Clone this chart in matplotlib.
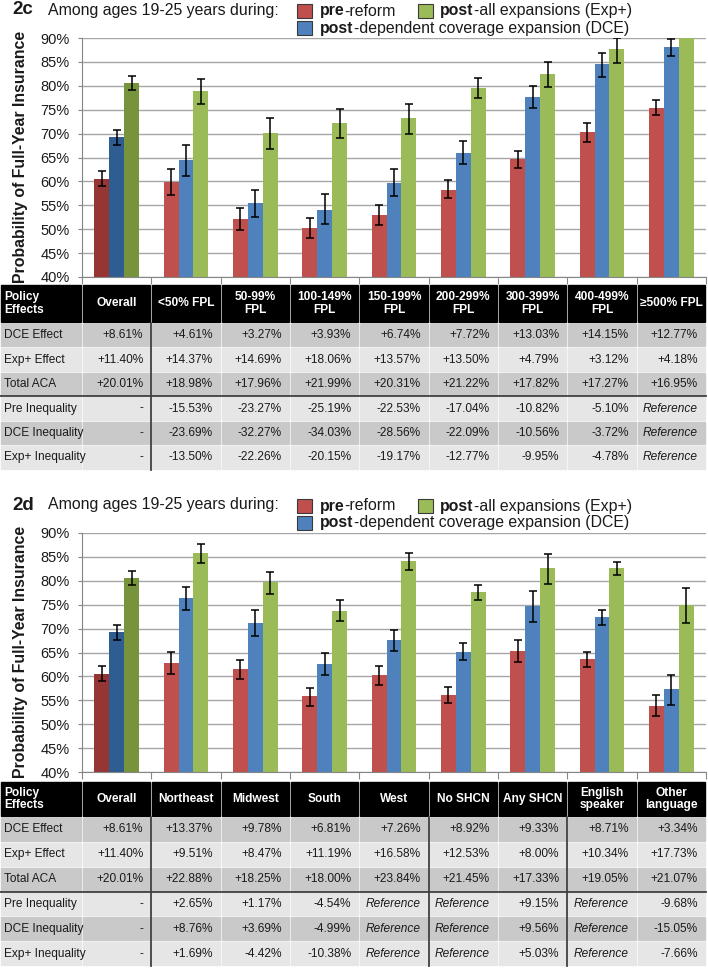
import numpy as np
import matplotlib.pyplot as plt
from matplotlib.patches import Rectangle

W, H = 708, 968

# --- 2c: by family poverty level (FPL) ---
fpl_groups = ['Overall', '<50% FPL', '50-99%\nFPL', '100-149%\nFPL', '150-199%\nFPL',
              '200-299%\nFPL', '300-399%\nFPL', '400-499%\nFPL', '≥500% FPL']
fpl_pre = [60.6, 59.9, 52.1, 50.2, 52.9, 58.3, 64.6, 70.3, 75.4]
fpl_pre_lo = [59.0, 57.2, 49.9, 48.1, 50.8, 56.5, 62.9, 68.3, 73.9]
fpl_pre_hi = [62.2, 62.6, 54.4, 52.3, 55.0, 60.2, 66.4, 72.3, 77.0]
fpl_dce = [69.2, 64.5, 55.4, 54.1, 59.6, 66.0, 77.6, 84.5, 88.2]
fpl_dce_lo = [67.6, 61.2, 52.5, 51.1, 56.9, 63.6, 75.3, 81.9, 86.2]
fpl_dce_hi = [70.8, 67.6, 58.2, 57.3, 62.5, 68.5, 79.9, 86.8, 89.8]
fpl_exp = [80.6, 78.9, 70.1, 72.2, 73.2, 79.6, 82.4, 87.6, 92.35]
fpl_exp_lo = [79.2, 76.1, 66.8, 69.1, 70.0, 77.4, 79.7, 84.7, 90.4]
fpl_exp_hi = [82.0, 81.5, 73.3, 75.1, 76.2, 81.7, 84.9, 89.9, 94.3]

fpl_dce_effect = ['+8.61%', '+4.61%', '+3.27%', '+3.93%', '+6.74%', '+7.72%', '+13.03%', '+14.15%', '+12.77%']
fpl_exp_effect = ['+11.40%', '+14.37%', '+14.69%', '+18.06%', '+13.57%', '+13.50%', '+4.79%', '+3.12%', '+4.18%']
fpl_total = ['+20.01%', '+18.98%', '+17.96%', '+21.99%', '+20.31%', '+21.22%', '+17.82%', '+17.27%', '+16.95%']
fpl_pre_ineq = ['-', '-15.53%', '-23.27%', '-25.19%', '-22.53%', '-17.04%', '-10.82%', '-5.10%', 'Reference']
fpl_dce_ineq = ['-', '-23.69%', '-32.27%', '-34.03%', '-28.56%', '-22.09%', '-10.56%', '-3.72%', 'Reference']
fpl_exp_ineq = ['-', '-13.50%', '-22.26%', '-20.15%', '-19.17%', '-12.77%', '-9.95%', '-4.78%', 'Reference']

# --- 2d: by region, health care need, language ---
grp_groups = ['Overall', 'Northeast', 'Midwest', 'South', 'West', 'No SHCN', 'Any SHCN',
              'English\nspeaker', 'Other\nlanguage']
grp_pre = [60.6, 62.9, 61.5, 55.8, 60.3, 56.1, 65.35, 63.7, 53.9]
grp_pre_lo = [59.0, 60.6, 59.4, 53.8, 58.3, 54.5, 63.0, 62.0, 51.7]
grp_pre_hi = [62.2, 65.1, 63.4, 57.6, 62.1, 57.8, 67.7, 65.15, 56.2]
grp_dce = [69.2, 76.3, 71.2, 62.5, 67.6, 65.05, 74.7, 72.4, 57.3]
grp_dce_lo = [67.6, 73.8, 68.5, 60.2, 65.4, 63.4, 71.4, 70.7, 54.1]
grp_dce_hi = [70.8, 78.6, 73.8, 64.8, 69.8, 66.9, 77.8, 73.9, 60.35]
grp_exp = [80.6, 85.8, 79.7, 73.6, 84.2, 77.7, 82.6, 82.7, 74.9]
grp_exp_lo = [79.2, 83.8, 77.3, 71.6, 82.3, 76.0, 79.4, 81.3, 71.2]
grp_exp_hi = [82.0, 87.7, 81.9, 75.9, 85.9, 79.2, 85.6, 83.9, 78.5]

grp_dce_effect = ['+8.61%', '+13.37%', '+9.78%', '+6.81%', '+7.26%', '+8.92%', '+9.33%', '+8.71%', '+3.34%']
grp_exp_effect = ['+11.40%', '+9.51%', '+8.47%', '+11.19%', '+16.58%', '+12.53%', '+8.00%', '+10.34%', '+17.73%']
grp_total = ['+20.01%', '+22.88%', '+18.25%', '+18.00%', '+23.84%', '+21.45%', '+17.33%', '+19.05%', '+21.07%']
grp_pre_ineq = ['-', '+2.65%', '+1.17%', '-4.54%', 'Reference', 'Reference', '+9.15%', 'Reference', '-9.68%']
grp_dce_ineq = ['-', '+8.76%', '+3.69%', '-4.99%', 'Reference', 'Reference', '+9.56%', 'Reference', '-15.05%']
grp_exp_ineq = ['-', '+1.69%', '-4.42%', '-10.38%', 'Reference', 'Reference', '+5.03%', 'Reference', '-7.66%']

row_labels = ['DCE Effect', 'Exp+ Effect', 'Total ACA', 'Pre Inequality', 'DCE Inequality', 'Exp+ Inequality']

colors = ['#c0504d', '#4f81bd', '#9bbb59']
dark_colors = ['#963634', '#2f5d91', '#77933c']
text_col = '#1a1a1a'

plt.rcParams['font.family'] = ['Liberation Sans', 'DejaVu Sans']

fig = plt.figure(figsize=(W / 100, H / 100), dpi=100)
ov = fig.add_axes([0, 0, 1, 1])
ov.set_xlim(0, W)
ov.set_ylim(H, 0)
ov.axis('off')

col_w = 624 / 9
edges = [0] + [82 + col_w * i for i in range(10)]


def bold_then_plain(x, y, bold, plain):
    t = ov.text(x, y, bold, fontsize=11.4, fontweight='bold', va='center', ha='left', color=text_col)
    ov.annotate(plain, xy=(1, 0), xycoords=t, va='bottom', ha='left', fontsize=11.4, color=text_col)


def draw_panel(tag, y0, head_top, head_bot, row_h, groups, series, rows, seps):
    # heading + legend
    ov.text(12, y0 + 10, tag, fontsize=13.5, fontweight='bold', va='center', color=text_col)
    ov.text(48, y0 + 10, 'Among ages 19-25 years during:', fontsize=11.4, va='center', color=text_col)
    for (lx, ly), c in zip([(297, y0 + 4), (297, y0 + 21), (418, y0 + 4)], colors):
        ov.add_patch(Rectangle((lx, ly), 15, 14, facecolor=c, edgecolor='#3a3a3a', lw=0.8))
    bold_then_plain(320, y0 + 11, 'pre', '-reform')
    bold_then_plain(440, y0 + 11, 'post', '-all expansions (Exp+)')
    bold_then_plain(320, y0 + 28, 'post', '-dependent coverage expansion (DCE)')

    # bar chart
    ax = fig.add_axes([82 / W, 1 - (y0 + 277) / H, 624 / W, 239 / H])
    x = np.arange(len(groups))
    bw = 0.215
    for k, (vals, lo, hi) in enumerate(series):
        vals, lo, hi = np.array(vals), np.array(lo), np.array(hi)
        cols = [dark_colors[k]] + [colors[k]] * (len(groups) - 1)
        ax.bar(x + (k - 1) * bw, vals, bw, color=cols, zorder=2)
        ax.errorbar(x + (k - 1) * bw, vals, yerr=[vals - lo, hi - vals], fmt='none',
                    ecolor='black', elinewidth=1.1, capsize=3, capthick=1.1, zorder=3)
    ax.set_xlim(-0.5, len(groups) - 0.5)
    ax.set_ylim(40, 90)
    ax.set_yticks(range(40, 91, 5))
    ax.set_yticklabels([f'{v}%' for v in range(40, 91, 5)], fontsize=10.5, color=text_col)
    ax.set_xticks(np.arange(-0.5, len(groups), 1))
    ax.set_xticklabels([])
    ax.tick_params(axis='x', length=5, color='#868686')
    ax.tick_params(axis='y', length=3, pad=6, color='#868686')
    ax.yaxis.grid(True, color='#a6a6a6', lw=1)
    ax.set_axisbelow(True)
    for s in ['top', 'right']:
        ax.spines[s].set_visible(False)
    for s in ['left', 'bottom']:
        ax.spines[s].set_color('#868686')
    ov.text(21, y0 + 157, 'Probability of Full-Year Insurance', rotation=90, ha='center', va='center',
            fontsize=11.4, fontweight='bold', color=text_col)

    # table header
    for j in range(10):
        x0, x1 = edges[j], edges[j + 1]
        ov.add_patch(Rectangle((x0 + 1, head_top), x1 - x0 - 2, head_bot - head_top, color='black'))
        if j == 0:
            ov.text(4, (head_top + head_bot) / 2, 'Policy\nEffects', color='white', fontsize=8.6,
                    fontweight='bold', ha='left', va='center', linespacing=1.1)
        else:
            ov.text((x0 + x1) / 2, (head_top + head_bot) / 2, groups[j - 1], color='white', fontsize=8.6,
                    fontweight='bold', ha='center', va='center', linespacing=1.1)

    # table body
    for r, cells in enumerate(rows):
        y = head_bot + 1 + r * row_h
        fc = '#c9c9c9' if r % 2 == 0 else '#e6e6e6'
        for j in range(10):
            x0, x1 = edges[j], edges[j + 1]
            ov.add_patch(Rectangle((x0 + 1, y + 1), x1 - x0 - 2, row_h - 2, color=fc))
        ov.text(4, y + row_h / 2, row_labels[r], fontsize=8.6, ha='left', va='center', color=text_col)
        for j, val in enumerate(cells):
            ov.text(edges[j + 2] - 8, y + row_h / 2, val, fontsize=8.6, ha='right', va='center',
                    color=text_col, style='italic' if val == 'Reference' else 'normal')
    bot = head_bot + 1 + len(rows) * row_h
    for b in seps:
        ov.plot([edges[b], edges[b]], [head_bot + 1, bot], color='#404040', lw=1.3)
    ys = head_bot + 1 + 3 * row_h
    ov.plot([0, edges[-1]], [ys, ys], color='#404040', lw=1.3)


draw_panel('2c', 0, 285, 322, 24.45, fpl_groups,
           [(fpl_pre, fpl_pre_lo, fpl_pre_hi), (fpl_dce, fpl_dce_lo, fpl_dce_hi),
            (fpl_exp, fpl_exp_lo, fpl_exp_hi)],
           [fpl_dce_effect, fpl_exp_effect, fpl_total, fpl_pre_ineq, fpl_dce_ineq, fpl_exp_ineq],
           [2])
draw_panel('2d', 495, 782, 816, 24.85, grp_groups,
           [(grp_pre, grp_pre_lo, grp_pre_hi), (grp_dce, grp_dce_lo, grp_dce_hi),
            (grp_exp, grp_exp_lo, grp_exp_hi)],
           [grp_dce_effect, grp_exp_effect, grp_total, grp_pre_ineq, grp_dce_ineq, grp_exp_ineq],
           [2, 6, 8])

fig.savefig('out.png', dpi=100)
